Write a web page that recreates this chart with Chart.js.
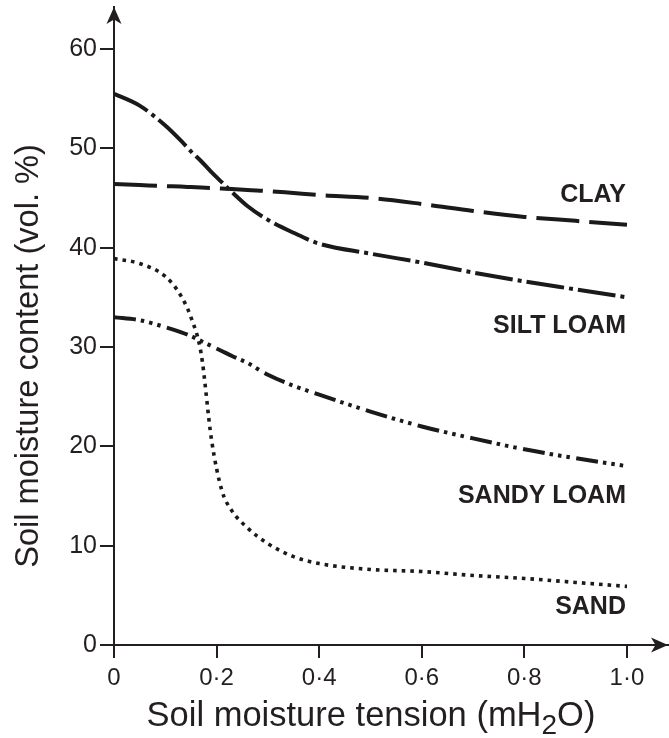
<!DOCTYPE html>
<html>
<head>
<meta charset="utf-8">
<script src="https://cdn.jsdelivr.net/npm/chart.js@4.4.0/dist/chart.umd.min.js"></script>
<style>
  body { margin: 0; background: #fff; }
  #wrap { width: 669px; height: 738px; }
</style>
</head>
<body>
<div id="wrap"><canvas id="soil-chart" width="669" height="738"></canvas></div>
<script>
// soil moisture tension (mH2O) - shared x positions for all curves
var tension = [0, 0.05, 0.1, 0.13, 0.15, 0.17, 0.19, 0.21, 0.23, 0.26, 0.3, 0.35, 0.4, 0.5, 0.6, 0.7, 0.8, 0.9, 1.0];

// soil moisture content (vol. %)
var clay      = [46.4, 46.3, 46.2, 46.15, 46.1, 46.05, 46.0, 45.95, 45.9, 45.8, 45.7, 45.5, 45.3, 45.0, 44.4, 43.7, 43.1, 42.7, 42.3];
var siltLoam  = [55.5, 54.3, 52.3, 50.8, 49.7, 48.7, 47.6, 46.6, 45.6, 44.2, 42.8, 41.5, 40.4, 39.4, 38.5, 37.5, 36.6, 35.8, 35.0];
var sandyLoam = [33.0, 32.7, 32.0, 31.5, 31.1, 30.6, 30.1, 29.6, 29.1, 28.4, 27.2, 26.1, 25.2, 23.5, 22.0, 20.8, 19.7, 18.8, 18.0];
var sand      = [38.9, 38.4, 37.1, 35.2, 33.0, 29.3, 20.7, 15.6, 13.5, 11.8, 10.2, 8.9, 8.2, 7.6, 7.4, 7.0, 6.7, 6.3, 5.9];

var xTicks = [0, 0.2, 0.4, 0.6, 0.8, 1.0];
var yTicks = [0, 10, 20, 30, 40, 50, 60];

var seriesNames = ['CLAY', 'SILT LOAM', 'SANDY LOAM', 'SAND'];
var nameLevels = [44.55, 31.4, 14.3, 3.1]; // vol. % where each name sits

var ink = '#231f20';
var lineInk = '#1a1a1a';
var fontFamily = "'Liberation Sans', Arial, Helvetica, sans-serif";

Chart.defaults.font.family = fontFamily;
Chart.defaults.color = ink;

function points(ys) {
    return tension.map(function (t, i) { return { x: t, y: ys[i] }; });
}

function lineSet(label, ys, dash, width) {
    return {
        label: label,
        data: points(ys),
        borderColor: lineInk,
        borderWidth: width,
        borderDash: dash,
        borderCapStyle: 'butt',
        pointRadius: 0,
        fill: false,
        cubicInterpolationMode: 'monotone'
    };
}

// no extra room for half-labels at the ends, the axes run on past them
function noEdgePadding(s) {
    s.paddingTop = 0;
    s.paddingBottom = 0;
    s.paddingLeft = 0;
    s.paddingRight = 0;
}

// arrows on the axes, axis titles and curve names
var decorations = {
    id: 'decorations',
    afterDraw: function (chart) {
        var ctx = chart.ctx;
        var xs = chart.scales.x;
        var ys = chart.scales.y;
        var area = chart.chartArea;

        ctx.save();
        ctx.fillStyle = ink;

        // y arrow
        var ax = xs.getPixelForValue(0);
        var ay = area.top;
        ctx.beginPath();
        ctx.moveTo(ax, ay);
        ctx.lineTo(ax + 7.5, ay + 17);
        ctx.lineTo(ax, ay + 12.5);
        ctx.lineTo(ax - 7.5, ay + 17);
        ctx.closePath();
        ctx.fill();

        // x arrow
        var bx = area.right;
        var by = ys.getPixelForValue(0);
        ctx.beginPath();
        ctx.moveTo(bx, by);
        ctx.lineTo(bx - 17, by - 7.5);
        ctx.lineTo(bx - 12.5, by);
        ctx.lineTo(bx - 17, by + 7.5);
        ctx.closePath();
        ctx.fill();

        // curve names
        ctx.font = 'bold 25px ' + fontFamily;
        ctx.textAlign = 'right';
        ctx.textBaseline = 'alphabetic';
        var nameX = xs.getPixelForValue(1.0) - 1;
        seriesNames.forEach(function (name, i) {
            ctx.fillText(name, nameX, ys.getPixelForValue(nameLevels[i]));
        });

        // y title
        ctx.save();
        ctx.font = '32.6px ' + fontFamily;
        ctx.textAlign = 'center';
        ctx.translate(38, 356);
        ctx.rotate(-Math.PI / 2);
        ctx.fillText('Soil moisture content (vol. %)', 0, 0);
        ctx.restore();

        // x title with subscript
        var big = '34.5px ' + fontFamily;
        var small = '28px ' + fontFamily;
        var partA = 'Soil moisture tension (mH';
        var partB = '2';
        var partC = 'O)';
        ctx.textAlign = 'left';
        ctx.font = big;
        var wA = ctx.measureText(partA).width;
        var wC = ctx.measureText(partC).width;
        ctx.font = small;
        var wB = ctx.measureText(partB).width;
        var total = wA + wB + wC;
        var startX = 371 - total / 2;
        var baseY = 726;
        ctx.font = big;
        ctx.fillText(partA, startX, baseY);
        ctx.font = small;
        ctx.fillText(partB, startX + wA, baseY + 8);
        ctx.font = big;
        ctx.fillText(partC, startX + wA + wB, baseY);

        ctx.restore();
    }
};

var ctx = document.getElementById('soil-chart').getContext('2d');
var soilChart = new Chart(ctx, {
    type: 'line',
    data: {
        datasets: [
            lineSet('Clay', clay, [43, 10], 4),
            lineSet('Silt loam', siltLoam, [38, 5, 4, 5], 4),
            lineSet('Sandy loam', sandyLoam, [22, 5, 3.5, 5, 3.5, 5, 3.5, 6.5], 4),
            lineSet('Sand', sand, [3.6, 5], 3.6)
        ]
    },
    options: {
        responsive: false,
        animation: false,
        layout: { padding: { left: 0, top: 7, right: 1, bottom: 0 } },
        plugins: {
            legend: { display: false },
            tooltip: { enabled: false }
        },
        scales: {
            x: {
                type: 'linear',
                min: 0,
                max: 1.08,
                afterBuildTicks: function (s) { s.ticks = xTicks.map(function (v) { return { value: v }; }); },
                afterFit: function (s) { s.height = 93; noEdgePadding(s); },
                grid: { drawOnChartArea: false, drawTicks: true, tickLength: 13, color: ink, lineWidth: 2 },
                border: { display: true, color: ink, width: 2 },
                ticks: {
                    padding: 6,
                    color: ink,
                    font: { size: 24 },
                    maxRotation: 0,
                    autoSkip: false,
                    callback: function (v) { return v === 0 ? '0' : v.toFixed(1).replace('.', '\u00b7'); }
                }
            },
            y: {
                type: 'linear',
                min: 0,
                max: 64.23,
                afterBuildTicks: function (s) { s.ticks = yTicks.map(function (v) { return { value: v }; }); },
                afterFit: function (s) { s.width = 114; noEdgePadding(s); },
                grid: { drawOnChartArea: false, drawTicks: true, tickLength: 14, color: ink, lineWidth: 2 },
                border: { display: true, color: ink, width: 2 },
                ticks: {
                    padding: 3,
                    color: ink,
                    font: { size: 25 },
                    autoSkip: false,
                    callback: function (v) { return String(v); }
                }
            }
        }
    },
    plugins: [decorations]
});
</script>
</body>
</html>
